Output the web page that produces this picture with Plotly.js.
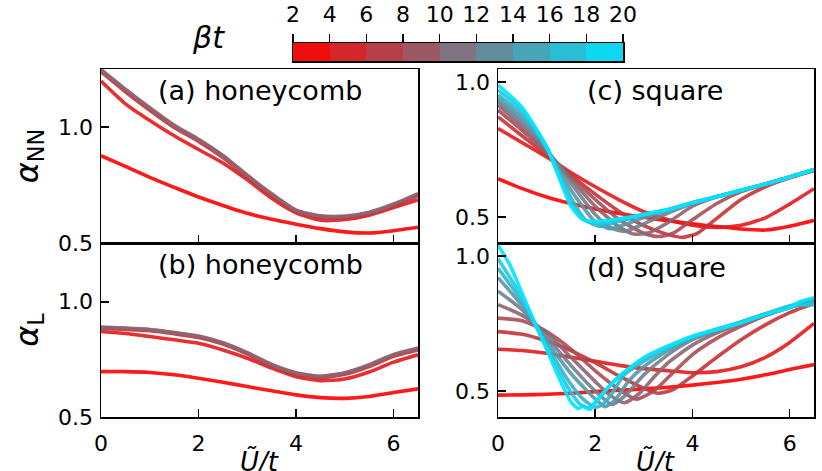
<!DOCTYPE html>
<html>
<head>
<meta charset="utf-8">
<script src="https://cdn.plot.ly/plotly-3.0.1.min.js"></script>
<style>html,body{margin:0;padding:0;background:#fff;}#plot{width:822px;height:471px;}</style>
</head>
<body>
<div id="plot"></div>
<script>
// ---------- data ----------
const betaT = [2, 4, 6, 8, 10, 12, 14, 16, 18, 20];
const cbEdges = [2, 4, 6, 8, 10, 12, 14, 16, 18, 20];
const cbCenters = [3, 5, 7, 9, 11, 13, 15, 17, 19];
const xTicks = [0, 2, 4, 6];
const yTicks = [0.5, 1.0];

// honeycomb (panels a, b)
const honeyBeta = [2, 4, 6, 8, 10];
const Uh = [0, 0.5, 1, 1.5, 2, 2.5, 3, 3.5, 4, 4.5, 5, 5.5, 6, 6.5];
const aNN2  = [0.876, 0.830, 0.783, 0.740, 0.698, 0.662, 0.628, 0.602, 0.581, 0.562, 0.548, 0.543, 0.553, 0.568];
const aNN4  = [1.198, 1.100, 1.028, 0.962, 0.903, 0.845, 0.772, 0.693, 0.630, 0.598, 0.601, 0.620, 0.653, 0.686];
const aNN6  = [1.238, 1.152, 1.072, 0.998, 0.938, 0.868, 0.784, 0.705, 0.636, 0.610, 0.609, 0.626, 0.660, 0.704];
const aNN8  = [1.245, 1.160, 1.080, 1.005, 0.945, 0.875, 0.790, 0.710, 0.640, 0.615, 0.613, 0.630, 0.665, 0.710];
const aNN10 = [1.248, 1.163, 1.083, 1.008, 0.947, 0.877, 0.792, 0.712, 0.642, 0.617, 0.616, 0.633, 0.668, 0.713];
const bL2   = [0.697, 0.697, 0.693, 0.683, 0.668, 0.651, 0.632, 0.614, 0.596, 0.584, 0.581, 0.589, 0.606, 0.622];
const bL4   = [0.871, 0.862, 0.849, 0.835, 0.820, 0.791, 0.755, 0.712, 0.675, 0.658, 0.665, 0.695, 0.738, 0.770];
const bL6   = [0.884, 0.880, 0.874, 0.861, 0.845, 0.816, 0.773, 0.722, 0.686, 0.671, 0.685, 0.719, 0.763, 0.791];
const bL8   = [0.888, 0.884, 0.878, 0.865, 0.849, 0.820, 0.777, 0.726, 0.690, 0.675, 0.690, 0.724, 0.768, 0.796];
const bL10  = [0.890, 0.886, 0.880, 0.867, 0.851, 0.822, 0.779, 0.728, 0.692, 0.677, 0.692, 0.727, 0.771, 0.799];

// square alpha_NN (panel c)
const cU2  = [0, 0.5, 1, 1.5, 2, 2.5, 3, 3.5, 4, 4.5, 5, 5.5, 6, 6.5];
const cA2  = [0.642, 0.605, 0.574, 0.550, 0.530, 0.513, 0.499, 0.486, 0.475, 0.465, 0.456, 0.452, 0.466, 0.488];
const cU4  = [0, 0.5, 1, 1.5, 2, 2.5, 3, 3.5, 4, 4.5, 5, 5.5, 6, 6.5];
const cA4  = [0.828, 0.775, 0.722, 0.665, 0.612, 0.563, 0.520, 0.490, 0.470, 0.462, 0.470, 0.497, 0.548, 0.605];
const cU6  = [0, 0.5, 1, 1.5, 2, 2.5, 3, 3.5, 3.8, 4.1, 4.5, 5, 5.5, 6, 6.5];
const cA6  = [0.871, 0.800, 0.730, 0.655, 0.585, 0.520, 0.468, 0.435, 0.425, 0.440, 0.495, 0.565, 0.612, 0.645, 0.672];
const cU8  = [0, 0.5, 1, 1.5, 2, 2.5, 3, 3.3, 3.6, 4, 4.5, 5, 5.5, 6, 6.5];
const cA8  = [0.896, 0.820, 0.740, 0.650, 0.565, 0.490, 0.440, 0.428, 0.440, 0.490, 0.550, 0.594, 0.622, 0.648, 0.675];
const cU10 = [0, 0.5, 1, 1.5, 2, 2.5, 2.8, 3.1, 3.5, 4, 4.5, 5, 5.5, 6, 6.5];
const cA10 = [0.914, 0.835, 0.745, 0.640, 0.540, 0.462, 0.437, 0.442, 0.480, 0.540, 0.575, 0.598, 0.622, 0.648, 0.675];
const cU12 = [0, 0.5, 1, 1.5, 2, 2.3, 2.6, 3, 3.5, 4, 4.5, 5, 5.5, 6, 6.5];
const cA12 = [0.927, 0.850, 0.750, 0.625, 0.510, 0.462, 0.447, 0.475, 0.515, 0.550, 0.575, 0.598, 0.622, 0.648, 0.675];
const cU14 = [0, 0.5, 1, 1.5, 2, 2.3, 2.7, 3, 3.5, 4, 4.5, 5, 5.5, 6, 6.5];
const cA14 = [0.939, 0.865, 0.755, 0.600, 0.482, 0.457, 0.478, 0.498, 0.525, 0.552, 0.575, 0.598, 0.622, 0.648, 0.675];
const cU16 = [0, 0.5, 1, 1.5, 1.8, 2.1, 2.5, 3, 3.5, 4, 4.5, 5, 5.5, 6, 6.5];
const cA16 = [0.952, 0.880, 0.757, 0.572, 0.490, 0.466, 0.485, 0.508, 0.528, 0.553, 0.575, 0.598, 0.622, 0.648, 0.675];
const cU18 = [0, 0.5, 1, 1.5, 1.75, 2, 2.5, 3, 3.5, 4, 4.5, 5, 5.5, 6, 6.5];
const cA18 = [0.970, 0.895, 0.760, 0.550, 0.492, 0.476, 0.490, 0.510, 0.528, 0.553, 0.576, 0.600, 0.622, 0.648, 0.676];
const cU20 = [0, 0.5, 1, 1.25, 1.5, 1.75, 2, 2.5, 3, 3.5, 4, 4.5, 5, 5.5, 6, 6.5];
const cA20 = [0.989, 0.905, 0.760, 0.650, 0.540, 0.490, 0.484, 0.494, 0.510, 0.527, 0.553, 0.575, 0.600, 0.622, 0.648, 0.675];

// square alpha_L (panel d)
const dU2  = [0, 0.5, 1, 1.5, 2, 2.5, 3, 3.5, 4, 4.5, 5, 5.5, 6, 6.5];
const dA2  = [0.485, 0.486, 0.488, 0.492, 0.498, 0.503, 0.508, 0.514, 0.522, 0.532, 0.544, 0.560, 0.580, 0.598];
const dU4  = [0, 0.5, 1, 1.5, 2, 2.5, 3, 3.5, 4, 4.5, 5, 5.5, 6, 6.5];
const dA4  = [0.655, 0.650, 0.640, 0.625, 0.610, 0.595, 0.583, 0.575, 0.568, 0.572, 0.590, 0.625, 0.680, 0.750];
const dU6  = [0, 0.5, 1, 1.5, 2, 2.5, 3, 3.3, 3.6, 4, 4.5, 5, 5.5, 6, 6.5];
const dA6  = [0.720, 0.710, 0.685, 0.650, 0.605, 0.555, 0.510, 0.492, 0.505, 0.556, 0.625, 0.690, 0.745, 0.790, 0.825];
const dU8  = [0, 0.5, 1, 1.5, 2, 2.5, 2.85, 3.2, 3.5, 4, 4.5, 5, 5.5, 6, 6.5];
const dA8  = [0.770, 0.760, 0.720, 0.655, 0.575, 0.505, 0.470, 0.500, 0.550, 0.635, 0.695, 0.740, 0.780, 0.810, 0.840];
const dU10 = [0, 0.5, 1, 1.5, 2, 2.3, 2.6, 2.9, 3.2, 3.5, 4, 4.5, 5, 5.5, 6, 6.5];
const dA10 = [0.820, 0.780, 0.715, 0.625, 0.535, 0.485, 0.457, 0.490, 0.550, 0.605, 0.670, 0.715, 0.750, 0.780, 0.810, 0.838];
const dU12 = [0, 0.5, 1, 1.5, 2, 2.35, 2.6, 3, 3.5, 4, 4.5, 5, 5.5, 6, 6.5];
const dA12 = [0.870, 0.800, 0.700, 0.595, 0.500, 0.450, 0.480, 0.560, 0.635, 0.690, 0.725, 0.755, 0.785, 0.810, 0.835];
const dU14 = [0, 0.5, 1, 1.5, 2, 2.2, 2.4, 2.7, 3, 3.5, 4, 4.5, 5, 5.5, 6, 6.5];
const dA14 = [0.920, 0.815, 0.685, 0.565, 0.470, 0.442, 0.465, 0.540, 0.590, 0.650, 0.695, 0.725, 0.755, 0.785, 0.815, 0.840];
const dU16 = [0, 0.5, 1, 1.5, 1.75, 2, 2.15, 2.3, 2.6, 3, 3.5, 4, 4.5, 5, 5.5, 6, 6.5];
const dA16 = [0.955, 0.830, 0.670, 0.525, 0.470, 0.440, 0.450, 0.480, 0.560, 0.610, 0.660, 0.700, 0.728, 0.755, 0.785, 0.810, 0.830];
const dU18 = [0, 0.5, 1, 1.5, 1.7, 1.85, 2, 2.2, 2.5, 3, 3.5, 4, 4.5, 5, 5.5, 6, 6.5];
const dA18 = [0.990, 0.845, 0.660, 0.495, 0.450, 0.437, 0.455, 0.500, 0.555, 0.620, 0.665, 0.700, 0.730, 0.755, 0.785, 0.815, 0.820];
const dU20 = [0, 0.25, 0.5, 0.75, 1, 1.25, 1.5, 1.65, 1.75, 1.9, 2, 2.25, 2.5, 3, 3.5, 4, 4.5, 5, 5.5, 6, 6.2, 6.5];
const dA20 = [1.040, 0.965, 0.860, 0.755, 0.655, 0.550, 0.460, 0.435, 0.445, 0.432, 0.460, 0.510, 0.556, 0.624, 0.667, 0.703, 0.728, 0.752, 0.783, 0.808, 0.830, 0.845];

// ---------- build ----------
const bMin = 2, bMax = 20;
const cLow = [255, 0, 0], cHigh = [0, 228, 255];
function colorOf(b) {
  const t = (b - bMin) / (bMax - bMin);
  const c = cLow.map((v, i) => Math.round(v + (cHigh[i] - v) * t));
  return 'rgb(' + c.join(',') + ')';
}
const honeyA = [aNN2, aNN4, aNN6, aNN8, aNN10];
const honeyB = [bL2, bL4, bL6, bL8, bL10];
const sqCx = [cU2, cU4, cU6, cU8, cU10, cU12, cU14, cU16, cU18, cU20];
const sqCy = [cA2, cA4, cA6, cA8, cA10, cA12, cA14, cA16, cA18, cA20];
const sqDx = [dU2, dU4, dU6, dU8, dU10, dU12, dU14, dU16, dU18, dU20];
const sqDy = [dA2, dA4, dA6, dA8, dA10, dA12, dA14, dA16, dA18, dA20];

const traces = [];
function line(x, y, b, xa, ya) {
  traces.push({x: x, y: y, xaxis: xa, yaxis: ya, type: 'scatter', mode: 'lines',
    line: {color: colorOf(b), width: 3.6, shape: 'spline', smoothing: 0.6}, opacity: 0.9,
    showlegend: false, hoverinfo: 'skip'});
}
honeyBeta.forEach((b, i) => line(Uh, honeyA[i], b, 'x', 'y'));
honeyBeta.forEach((b, i) => line(Uh, honeyB[i], b, 'x2', 'y2'));
betaT.forEach((b, i) => line(sqCx[i], sqCy[i], b, 'x3', 'y3'));
betaT.forEach((b, i) => line(sqDx[i], sqDy[i], b, 'x4', 'y4'));

// colour bar as heatmap
const cs = [[0, colorOf(bMin)], [1, colorOf(bMax)]];
traces.push({type: 'heatmap', x: cbEdges, y: [0, 1], z: [cbCenters], zmin: bMin, zmax: bMax,
  colorscale: cs, showscale: false, xaxis: 'x5', yaxis: 'y5', hoverinfo: 'skip'});

const W = 822, H = 471;
const px = v => v / W, py = v => 1 - v / H;
const FONT = 'DejaVu Sans, Liberation Sans, sans-serif';
const tickFont = {family: FONT, size: 22, color: '#000'};

function xax(domain, anchor, labels) {
  return {domain: domain, anchor: anchor, range: [0, 6.5], tickvals: xTicks, ticks: 'inside', ticklen: 8,
    tickwidth: 1.5, tickcolor: '#000', showline: true, mirror: true, linecolor: '#000', linewidth: 1.5,
    showgrid: false, zeroline: false, showticklabels: labels, tickfont: tickFont, ticklabelstandoff: 6};
}
function yax(domain, anchor, range) {
  return {domain: domain, anchor: anchor, range: range, tickvals: yTicks, tickformat: '.1f', ticks: 'inside',
    ticklen: 8, tickwidth: 1.5, tickcolor: '#000', showline: true, mirror: true, linecolor: '#000',
    linewidth: 1.5, showgrid: false, zeroline: false, tickfont: tickFont, ticklabelstandoff: 2};
}
const xL = [px(101), px(418)], xR = [px(498), px(814)];
const yT = [py(243), py(69)], yB = [py(417), py(243)];

const xTitleFont = {family: FONT, size: 26, color: '#000'};
const yTitleFont = {family: FONT, size: 32, color: '#000'};
const panelFont = {family: FONT, size: 27, color: '#000'};
function note(text, x, y, font, yanchor) {
  return {text: text, x: px(x), y: py(y), xref: 'paper', yref: 'paper', showarrow: false,
    xanchor: 'center', yanchor: yanchor || 'middle', font: font};
}
const layout = {
  width: W, height: H, margin: {l: 0, r: 0, t: 0, b: 0}, paper_bgcolor: '#fff', plot_bgcolor: 'rgba(0,0,0,0)',
  showlegend: false,
  xaxis: xax(xL, 'y', false),
  yaxis: Object.assign(yax(yT, 'x', [0.5, 1.25]), {title: {text: '<i>α</i><sub>NN</sub>', font: yTitleFont, standoff: 10}}),
  xaxis2: xax(xL, 'y2', true),
  yaxis2: Object.assign(yax(yB, 'x2', [0.5, 1.255]), {title: {text: '<i>α</i><sub>L</sub>', font: yTitleFont, standoff: 10}}),
  xaxis3: xax(xR, 'y3', false),
  yaxis3: yax(yT, 'x3', [0.404, 1.048]),
  xaxis4: xax(xR, 'y4', true),
  yaxis4: yax(yB, 'x4', [0.404, 1.048]),
  xaxis5: {domain: [px(293), px(623)], anchor: 'y5', side: 'top', range: [bMin, bMax], tickvals: cbEdges,
    ticks: 'outside', ticklen: 8, tickwidth: 1.5, tickcolor: '#000', showline: true, mirror: true,
    linecolor: '#000', linewidth: 1.5, showgrid: false, zeroline: false, tickfont: tickFont, ticklabelstandoff: 3},
  yaxis5: {domain: [py(61), py(43)], anchor: 'x5', range: [0, 1], showticklabels: false, ticks: '',
    showline: true, mirror: true, linecolor: '#000', linewidth: 1.5, showgrid: false, zeroline: false},
  annotations: [
    note('(a) honeycomb', 260, 91, panelFont),
    note('(b) honeycomb', 260, 264, panelFont),
    note('(c) square', 655, 91, panelFont),
    note('(d) square', 656, 267, panelFont),
    note('<i>βt</i>', 208, 38, {family: FONT, size: 30, color: '#000'}),
    note('<i>Ũ/t</i>', 259, 479, xTitleFont, 'bottom'),
    note('<i>Ũ/t</i>', 655, 479, xTitleFont, 'bottom')
  ]
};
Plotly.newPlot('plot', traces, layout, {staticPlot: true, displayModeBar: false});
</script>
</body>
</html>
